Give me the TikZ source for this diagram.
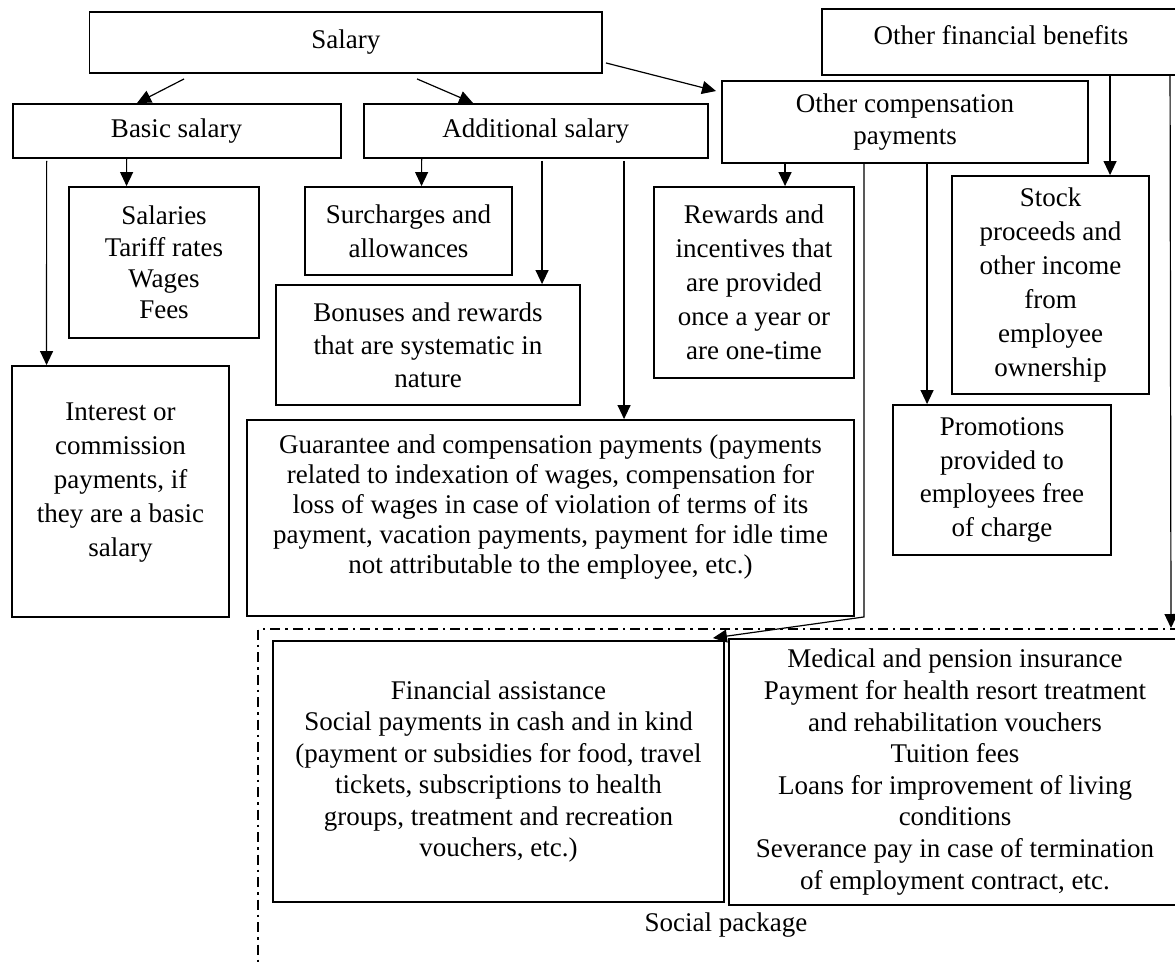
\documentclass[tikz,border=0pt]{standalone}
\usepackage{fontspec}
\setmainfont{Liberation Serif}
\usetikzlibrary{arrows.meta}
\newcommand\fsz[1]{\fontsize{27}{#1}\selectfont}
\begin{document}
\begin{tikzpicture}[x=1pt,y=-1pt,
  box/.style={draw, line width=1.9pt, inner sep=0pt, align=center},
  txt/.style={inner sep=0pt, align=center},
  arr/.style={line width=1.2pt, -{Triangle[length=14pt,width=13pt]}},
  ln/.style={line width=1.2pt},
  dd/.style={line width=1.8pt, dash pattern=on 10pt off 5pt on 2.5pt off 5pt}]
\useasboundingbox (0,0) rectangle (1175,965);

% top level
\node[box, minimum width=512.5, minimum height=61, font=\fsz{31}] (salary) at (345.75,42.5) {Salary};
\node[box, minimum width=358, minimum height=66] (ofb) at (1001,42) {};
\node[txt, font=\fsz{31}] (ofbt) at (1001,35) {Other financial benefits};

% second level
\node[box, minimum width=328, minimum height=54, font=\fsz{31}] (basic) at (176.6,131) {Basic salary};
\node[box, minimum width=344.4, minimum height=54, font=\fsz{31}] (add) at (535.8,131) {Additional salary};
\node[box, minimum width=366, minimum height=82, font=\fsz{32}] (oc) at (905,122) {Other compensation\\payments};

% third level
\node[box, minimum width=190, minimum height=151, font=\fsz{31.3}] (salaries) at (164,262.5) {Salaries\\Tariff rates\\Wages\\Fees};
\node[box, minimum width=207, minimum height=88, font=\fsz{34}] (surch) at (408.5,231) {Surcharges and\\allowances};
\node[box, minimum width=304, minimum height=120, font=\fsz{33}] (bonus) at (428,345) {Bonuses and rewards\\that are systematic in\\nature};
\node[box, minimum width=217, minimum height=251] (interest) at (120.5,491.5) {};
\node[txt, font=\fsz{34}] (interestt) at (120.5,483) {Interest or\\commission\\payments, if\\they are a basic\\salary};
\node[box, minimum width=607, minimum height=196] (guar) at (550.5,518) {};
\node[txt, font=\fsz{30}] (guart) at (550.5,507) {Guarantee and compensation payments (payments\\related to indexation of wages, compensation for\\loss of wages in case of violation of terms of its\\payment, vacation payments, payment for idle time\\not attributable to the employee, etc.)};
\node[box, minimum width=200, minimum height=191, font=\fsz{34}] (rewards) at (754,282.5) {Rewards and\\incentives that\\are provided\\once a year or\\are one-time};
\node[box, minimum width=197, minimum height=218, font=\fsz{34}] (stock) at (1050.5,285) {Stock\\proceeds and\\other income\\from\\employee\\ownership};
\node[box, minimum width=218, minimum height=150, font=\fsz{33.5}] (promo) at (1002,480) {Promotions\\provided to\\employees free\\of charge};

% social package
\node[box, minimum width=451, minimum height=261, font=\fsz{31.4}] (fin) at (498.5,771.5) {Financial assistance\\Social payments in cash and in kind\\(payment or subsidies for food, travel\\tickets, subscriptions to health\\groups, treatment and recreation\\vouchers, etc.)};
\node[box, minimum width=452, minimum height=266, font=\fsz{31.6}] (med) at (955,772) {Medical and pension insurance\\Payment for health resort treatment\\and rehabilitation vouchers\\Tuition fees\\Loans for improvement of living\\conditions\\Severance pay in case of termination\\of employment contract, etc.};
\node[txt, font=\fsz{31}] (social) at (726,925) {Social package};

\coordinate (ddr) at (1180,629);
\coordinate (ddc) at (258,629);
\coordinate (ddb) at (258,968);
\coordinate (sp) at (1171,628);
\draw[dd] (ddr) -- (ddc) -- (ddb);

% connectors
\draw[arr] ([shift={(95.5,5)}]salary.south west) -- ([shift={(125.4,0)}]basic.north west);
\draw[arr] ([shift={(328.5,5)}]salary.south west) -- ([shift={(110.4,0)}]add.north west);
\draw[arr] ([shift={(3,-11)}]salary.south east) -- ([shift={(-5,11)}]oc.north west);

\draw[arr] ([shift={(115,0)}]basic.south west) -- ([shift={(58.5,0)}]salaries.north west);
\draw[arr] ([shift={(35,2)}]basic.south west) -- ([shift={(35.5,0)}]interest.north west);

\draw[arr] ([shift={(59,0)}]add.south west) -- ([shift={(117.5,0)}]surch.north west);
\draw[arr] ([shift={(179.4,2)}]add.south west) -- ([shift={(267,0)}]bonus.north west);
\draw[arr] ([shift={(261.4,2)}]add.south west) -- ([shift={(378,0)}]guar.north west);

\draw[arr] ([shift={(64,0)}]oc.south west) -- ([shift={(132,0)}]rewards.north west);
\draw[arr] ([shift={(206,0)}]oc.south west) -- ([shift={(35,0)}]promo.north west);
\draw[arr] ([shift={(143,0)}]oc.south west) -- ++(0,453) -- ([shift={(-12,-2)}]fin.north east);

\draw[arr] ([shift={(289,0)}]ofb.south west) -- ([shift={(159,0)}]stock.north west);
\draw[arr] ([shift={(349,0)}]ofb.south west) -- (sp);
\end{tikzpicture}
\end{document}
